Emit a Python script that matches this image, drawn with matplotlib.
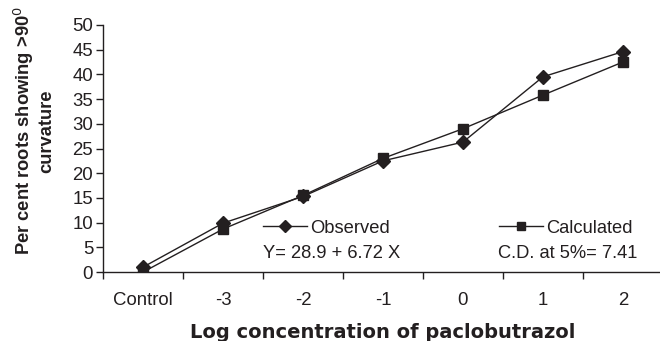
import matplotlib
matplotlib.use("Agg")
import matplotlib.pyplot as plt

categories = ["Control", "-3", "-2", "-1", "0", "1", "2"]
observed = [1.0, 9.9, 15.3, 22.5, 26.3, 39.5, 44.6]
calculated = [0.0, 8.7, 15.5, 23.0, 29.0, 35.8, 42.5]
yticks = [0, 5, 10, 15, 20, 25, 30, 35, 40, 45, 50]

plt.rcParams['font.family'] = ['Liberation Sans', 'DejaVu Sans']
col = '#231f20'

fig = plt.figure(figsize=(6.6, 3.41), dpi=100)
ax = fig.add_axes([0.156, 0.202, 1.0045 - 0.156, 0.725])

x = list(range(len(categories)))
ax.plot(x, observed, marker='D', color=col, lw=1.0, ms=7.2, label='Observed', zorder=3)
ax.plot(x, calculated, marker='s', color=col, lw=1.0, ms=6.8, label='Calculated', zorder=3)

ax.set_xlim(-0.5, len(categories) - 0.5)
ax.set_ylim(0, 50)
ax.set_yticks(yticks)
ax.set_xticks(x)
ax.set_xticklabels(categories)
ax.set_xticks([i - 0.5 for i in range(len(categories) + 1)], minor=True)
ax.tick_params(axis='x', which='major', length=0, pad=14, labelsize=13.4, colors=col)
ax.tick_params(axis='x', which='minor', length=5, direction='out', color=col, width=1)
ax.tick_params(axis='y', length=5, direction='out', labelsize=13.4, pad=2, color=col, labelcolor=col, width=1)
for s in ['top', 'right']:
    ax.spines[s].set_visible(False)
for s in ['left', 'bottom']:
    ax.spines[s].set_color(col)
    ax.spines[s].set_linewidth(1.0)

ax.set_xlabel("Log concentration of paclobutrazol", fontsize=14, fontweight='bold',
              color=col, family='DejaVu Sans')
ax.xaxis.set_label_coords(0.5, -0.205)
ax.set_ylabel("Per cent roots showing >90$^0$\ncurvature", fontsize=13.2, fontweight='bold',
              color=col, linespacing=1.1)
ax.yaxis.set_label_coords(-0.086, 0.571)

leg = ax.legend(loc='center left', bbox_to_anchor=(0.2857, 0.178), ncol=2, frameon=False,
                fontsize=13.2, handlelength=2.4, handletextpad=0.15, columnspacing=6.0,
                borderpad=0, borderaxespad=0, markerscale=0.85)
for t in leg.get_texts():
    t.set_color(col)

ax.text(1.5, 3.85, "Y= 28.9 + 6.72 X", fontsize=13.2, color=col, va='center', ha='left')
ax.text(4.44, 3.85, "C.D. at 5%= 7.41", fontsize=13.2, color=col, va='center', ha='left')

fig.savefig("out.png", dpi=100)
